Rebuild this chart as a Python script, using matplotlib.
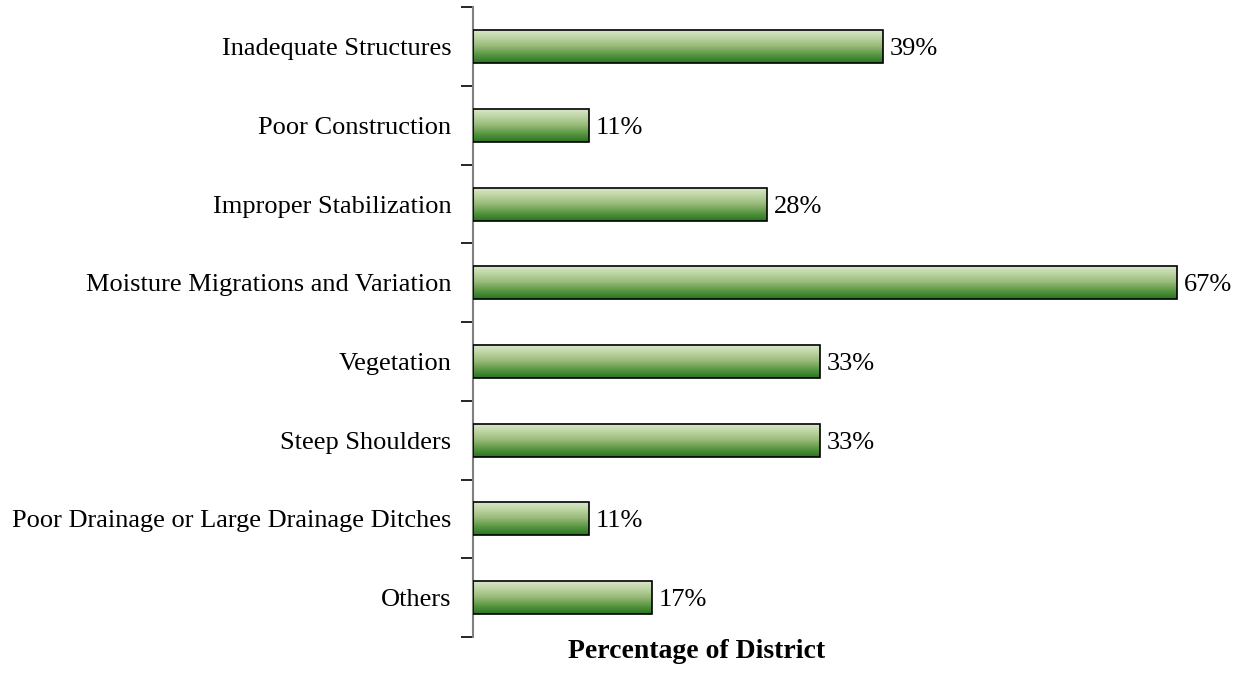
import numpy as np
import matplotlib
matplotlib.use("Agg")
from matplotlib import pyplot as plt
from matplotlib.colors import LinearSegmentedColormap

categories = ["Inadequate Structures", "Poor Construction", "Improper Stabilization",
              "Moisture Migrations and Variation", "Vegetation", "Steep Shoulders",
              "Poor Drainage or Large Drainage Ditches", "Others"]
values = [39, 11, 28, 67, 33, 33, 11, 17]
value_labels = ["39%", "11%", "28%", "67%", "33%", "33%", "11%", "17%"]

plt.rcParams['font.family'] = ['Liberation Serif', 'DejaVu Serif']
FS = 19.0

fig = plt.figure(figsize=(12.46, 6.92), dpi=100)
W, H = 1246, 692
left, right, top, bottom = 473, 1208, 7.3, 637
ax = fig.add_axes([left / W, 1 - bottom / H, (right - left) / W, (bottom - top) / H])

grad = LinearSegmentedColormap.from_list(
    "g", ["#dde9d0", "#bcd4a2", "#98ba78", "#5a9843", "#2a7420"])

y = np.arange(len(categories))
bars = ax.barh(y, values, height=0.42, facecolor="none", edgecolor="black",
               linewidth=1.2, zorder=3)
g = np.linspace(0, 1, 64).reshape(-1, 1)
for b in bars:
    x0, y0 = b.get_x(), b.get_y()
    x1, y1 = x0 + b.get_width(), y0 + b.get_height()
    im = ax.imshow(g, cmap=grad, aspect="auto", extent=(x0, x1, y1, y0),
                   origin="upper", zorder=2, interpolation="bilinear")
    im.set_clip_path(b)

for yi, v, lab in zip(y, values, value_labels):
    ax.text(v + 0.7, yi, lab, va="center_baseline", ha="left", fontsize=FS)

ax.set_xlim(0, 70)
ax.set_ylim(len(categories) - 0.5, -0.5)
ax.set_yticks(y)
ax.set_yticklabels(categories, fontsize=FS, va="center_baseline")
ax.set_yticks(np.arange(len(categories) + 1) - 0.5, minor=True)
ax.tick_params(axis="y", which="major", length=0, pad=15.5)
ax.tick_params(axis="y", which="minor", length=9, width=1.2, color="black")
ax.set_xticks([])
for s in ["top", "right", "bottom"]:
    ax.spines[s].set_visible(False)
ax.spines["left"].set_color("#808080")
ax.spines["left"].set_linewidth(1.5)

fig.text(697 / W, 1 - 652 / H, "Percentage of District", ha="center", va="center",
         fontsize=20, fontweight="bold")

fig.savefig("out.png", dpi=100)
